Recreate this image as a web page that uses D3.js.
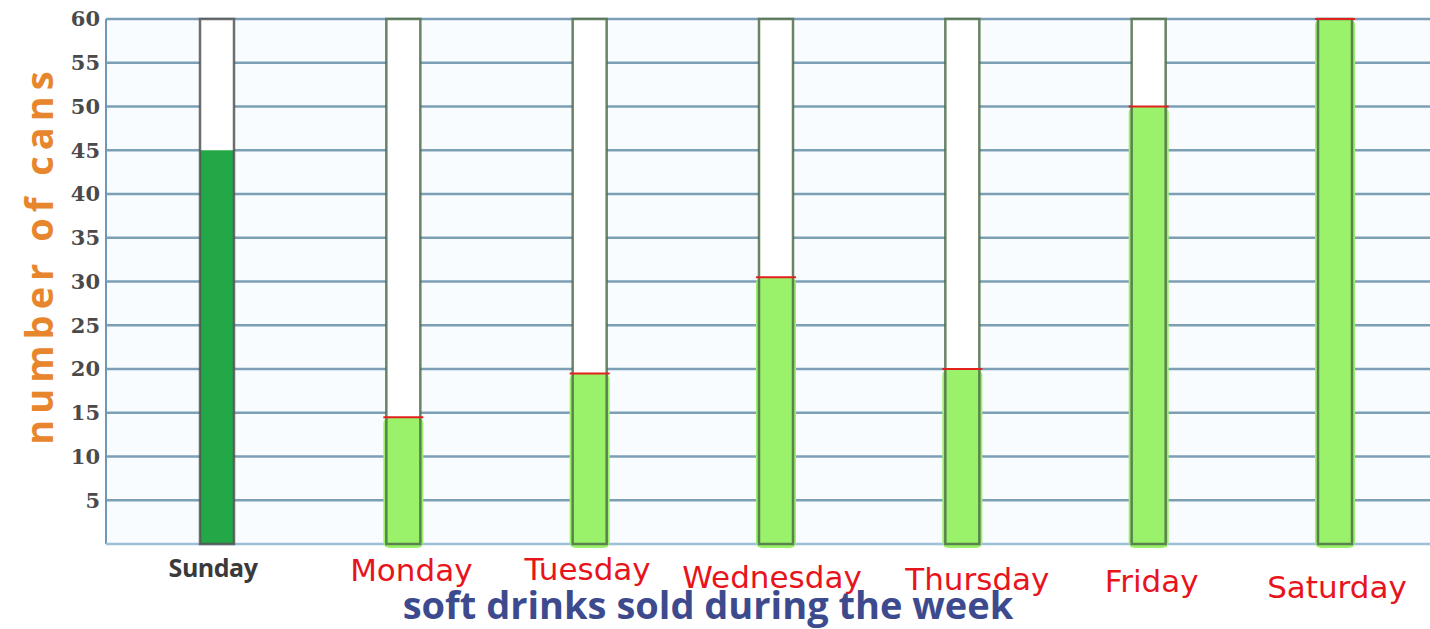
<!DOCTYPE html>
<html>
<head>
<meta charset="utf-8">
<script src="https://cdn.jsdelivr.net/npm/d3@7"></script>
<style>
  body { margin: 0; background: #fff; }
  svg { display: block; }
</style>
</head>
<body>
<div id="chart"></div>
<script>
// data
const days = ['Sunday', 'Monday', 'Tuesday', 'Wednesday', 'Thursday', 'Friday', 'Saturday'];
const cans = [45, 14.5, 19.5, 30.5, 20, 50, 60];
const yTicks = [5, 10, 15, 20, 25, 30, 35, 40, 45, 50, 55, 60];
const yMax = 60;

const width = 1430, height = 629;
const plot = { left: 106, right: 1430, top: 19, bottom: 544 };

const svg = d3.select('#chart').append('svg')
    .attr('width', width)
    .attr('height', height);

const y = d3.scaleLinear().domain([0, yMax]).range([plot.bottom, plot.top]);
const x = d3.scalePoint().domain(days).range([217, 1335]);
const barW = 34;

// pale plot background
svg.append('rect')
    .attr('x', plot.left).attr('y', plot.top)
    .attr('width', plot.right - plot.left).attr('height', plot.bottom - plot.top)
    .attr('fill', '#f8fcfe');

// gridlines
svg.append('g').selectAll('line')
    .data(yTicks)
    .join('line')
    .attr('x1', plot.left).attr('x2', plot.right)
    .attr('y1', d => y(d)).attr('y2', d => y(d))
    .attr('stroke', '#7d9fb6')
    .attr('stroke-width', 2.5);

// left and bottom frame
svg.append('line')
    .attr('x1', plot.left).attr('x2', plot.left)
    .attr('y1', plot.top).attr('y2', plot.bottom)
    .attr('stroke', '#6f98b8').attr('stroke-width', 2);
svg.append('line')
    .attr('x1', plot.left).attr('x2', plot.right)
    .attr('y1', plot.bottom).attr('y2', plot.bottom)
    .attr('stroke', '#9cc0d6').attr('stroke-width', 2.5);

// tick labels
svg.append('g').selectAll('text')
    .data(yTicks)
    .join('text')
    .attr('x', plot.left - 6)
    .attr('y', d => y(d))
    .attr('dy', '0.35em')
    .attr('text-anchor', 'end')
    .attr('font-family', '"DejaVu Serif", serif')
    .attr('font-weight', 'bold')
    .attr('font-size', 21)
    .attr('fill', '#4a4a4a')
    .text(d => d);

// empty column backgrounds (white, up to 60)
svg.append('g').selectAll('rect')
    .data(days)
    .join('rect')
    .attr('x', d => x(d) - barW / 2)
    .attr('y', y(yMax))
    .attr('width', barW)
    .attr('height', y(0) - y(yMax))
    .attr('fill', '#ffffff');

// coloured fills
const fills = svg.append('g');
days.forEach((d, i) => {
    const v = cans[i];
    if (i === 0) {
        fills.append('rect')
            .attr('x', x(d) - barW / 2)
            .attr('y', y(v))
            .attr('width', barW)
            .attr('height', y(0) - y(v))
            .attr('fill', '#23a847');
    } else {
        // hand coloured: slightly wider than the column, rounded bottom
        fills.append('rect')
            .attr('x', x(d) - barW / 2 - 3)
            .attr('y', y(v))
            .attr('width', barW + 6)
            .attr('height', y(0) - y(v) + 4)
            .attr('rx', 6)
            .attr('fill', '#9af26a');
    }
});

// column outlines on top
svg.append('g').selectAll('rect')
    .data(days)
    .join('rect')
    .attr('x', d => x(d) - barW / 2)
    .attr('y', y(yMax))
    .attr('width', barW)
    .attr('height', y(0) - y(yMax))
    .attr('fill', 'none')
    .attr('stroke', (d, i) => i === 0 ? '#555' : '#4f6f4a')
    .attr('stroke-opacity', 0.85)
    .attr('stroke-width', 2.5);

// red marker lines at the top of each hand coloured bar
svg.append('g').selectAll('line')
    .data(days.slice(1))
    .join('line')
    .attr('x1', d => x(d) - barW / 2 - 3)
    .attr('x2', d => x(d) + barW / 2 + 3)
    .attr('y1', (d, i) => y(cans[i + 1]))
    .attr('y2', (d, i) => y(cans[i + 1]))
    .attr('stroke', '#e3211c')
    .attr('stroke-width', 2);

// day labels (handwritten ones sit a little unevenly)
const labelBase = [577, 581, 580, 588, 590, 592, 598];
const labelShift = [-4, 8, -2, -4, 15, 3, 2];
svg.append('g').selectAll('text')
    .data(days)
    .join('text')
    .attr('x', (d, i) => x(d) + labelShift[i])
    .attr('y', (d, i) => labelBase[i])
    .attr('text-anchor', 'middle')
    .attr('font-family', (d, i) => i === 0 ? '"Open Sans", sans-serif' : '"DejaVu Sans", sans-serif')
    .attr('font-weight', (d, i) => i === 0 ? 'bold' : 'normal')
    .attr('font-size', (d, i) => i === 0 ? 25 : 31)
    .attr('letter-spacing', (d, i) => i === 0 ? -0.5 : 0)
    .attr('fill', (d, i) => i === 0 ? '#3a3a3a' : '#e8141c')
    .text(d => d);

// axis titles
svg.append('text')
    .attr('x', 708)
    .attr('y', 619)
    .attr('text-anchor', 'middle')
    .attr('font-family', '"Open Sans", sans-serif')
    .attr('font-weight', 'bold')
    .attr('font-size', 38)
    .attr('fill', '#3d4b8e')
    .text('soft drinks sold during the week');

svg.append('text')
    .attr('transform', 'translate(53,255) rotate(-90)')
    .attr('text-anchor', 'middle')
    .attr('font-family', '"Open Sans", sans-serif')
    .attr('font-weight', 'bold')
    .attr('font-size', 38)
    .attr('letter-spacing', 6)
    .attr('fill', '#e8862e')
    .text('number of cans');
</script>
</body>
</html>
